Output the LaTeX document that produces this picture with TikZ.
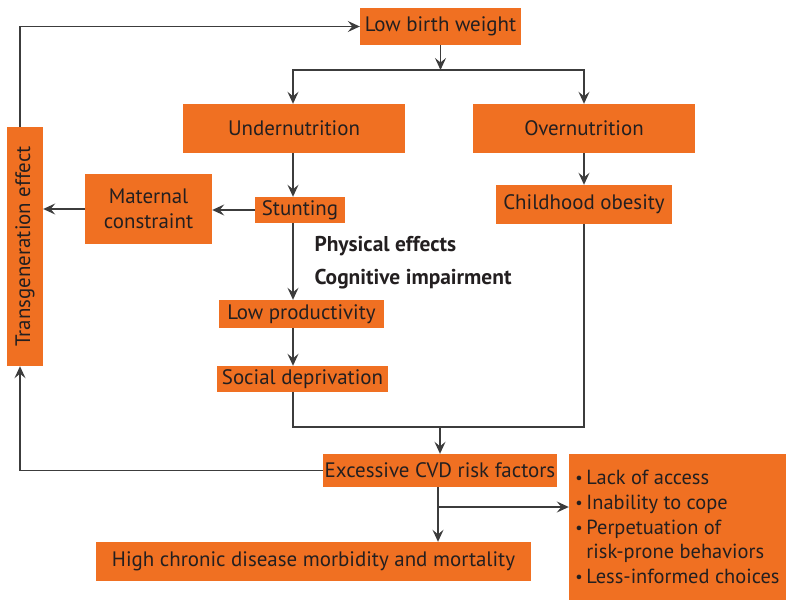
\documentclass[tikz,border=0pt]{standalone}
\usepackage{fontspec}
\setmainfont{PT Sans}
\usetikzlibrary{arrows.meta,calc}
\definecolor{boxor}{HTML}{F07022}
\definecolor{txt}{HTML}{231F20}
\definecolor{ln}{HTML}{3C3C3C}
\newcommand\mybul{\makebox[11bp][l]{\raisebox{0.1ex}{\scalebox{0.8}{\textbullet}}}}
\begin{document}
\begin{tikzpicture}[x=1bp,y=-1bp,
  box/.style={fill=boxor,draw=none,inner sep=0pt,text=txt,font=\fontsize{21}{24}\selectfont,align=center},
  arr/.style={ln,line width=1.3bp,-{Stealth[length=12bp,width=11bp,inset=4.5bp]}},
  lin/.style={ln,line width=1.3bp},
  lab/.style={anchor=west,text=txt,font=\fontsize{21.5}{24}\selectfont\bfseries}]
\useasboundingbox (0,0) rectangle (786,600);
\node[box,minimum width=161bp,minimum height=37bp] (lbw) at (440.5,26.5) {Low birth weight};
\node[box,minimum width=222bp,minimum height=49bp] (under) at (294,128.5) {Undernutrition};
\node[box,minimum width=222bp,minimum height=49bp] (over) at (584,128.5) {Overnutrition};
\node[box,minimum width=176bp,minimum height=39bp] (obes) at (584,204.5) {Childhood obesity};
\node[box,minimum width=90bp,minimum height=26bp] (stunt) at (300,210) {Stunting};
\node[box,minimum width=127bp,minimum height=70bp,font=\fontsize{21}{25}\selectfont] (mat) at (148.5,209) {Maternal\\constraint};
\node[box,minimum width=239bp,minimum height=36bp,rotate=90] (trans) at (25,246.5) {Transgeneration effect};
\node[box,minimum width=165bp,minimum height=28bp] (lowp) at (301.5,314) {Low productivity};
\node[box,minimum width=171bp,minimum height=26bp] (social) at (302.5,379) {Social deprivation};
\node[box,minimum width=234bp,minimum height=33bp] (cvd) at (440,470.5) {Excessive CVD risk factors};
\node[box,minimum width=435bp,minimum height=39bp] (high) at (313.5,561.5) {High chronic disease morbidity and mortality};
\node[box,minimum width=217bp,minimum height=146bp,align=left,font=\fontsize{20.5}{25}\selectfont] (risk) at (677.5,527) {%
\mybul Lack of access\\
\mybul Inability to cope\\
\mybul Perpetuation of\\
\hspace*{11bp}risk-prone behaviors\\
\mybul Less-informed choices};
\node[lab] (phys) at (311,246) {Physical effects};
\node[lab] (cogn) at (311,279) {Cognitive impairment};
\coordinate (split) at (440,70);
\coordinate (join) at (440,427);
\coordinate (br) at (438,507);
% connectors (trans is rotated: east = top, west = bottom, south = right side)
\draw[arr] ([xshift=-5bp]trans.east) |- (lbw.west);
\draw[arr] (lbw.south) -- (lbw.south |- split);
\draw[arr] (split) -| ([xshift=-1bp]under.north);
\draw[arr] (split) -| (over.north);
\draw[arr] ([xshift=-1bp]under.south) -- ([xshift=-1bp]under.south |- stunt.north);
\draw[arr] (stunt.west) -- (stunt.west -| mat.east);
\draw[arr] (mat.west) -- (mat.west -| trans.south);
\draw[arr] ([xshift=-1bp]under.south |- stunt.south) -- ([xshift=-1bp]under.south |- lowp.north);
\draw[arr] ([xshift=-1bp]under.south |- lowp.south) -- ([xshift=-1bp]under.south |- social.north);
\draw[arr] (over.south) -- (obes.north);
\draw[lin] ([xshift=-1bp]under.south |- social.south) |- (obes.south |- join) -- (obes.south);
\draw[arr] (join) -- (join |- cvd.north);
\draw[arr] (cvd.west) -| ([xshift=-5bp]trans.west);
\draw[arr] (br |- cvd.south) -- (br |- high.north);
\draw[arr] (br) -- (br -| risk.west);
\end{tikzpicture}
\end{document}
